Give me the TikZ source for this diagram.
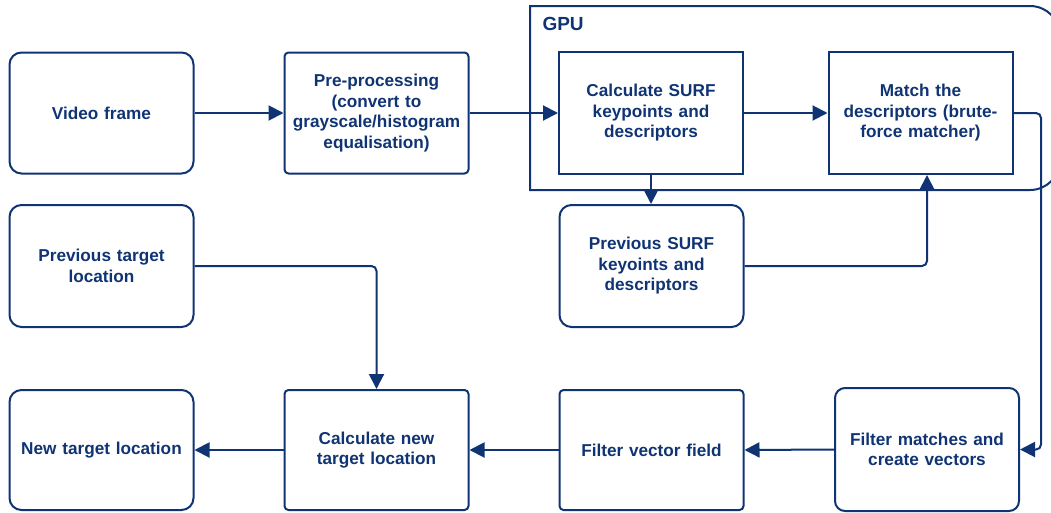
\documentclass[tikz,border=0pt]{standalone}
\usepackage{fontspec}
\setmainfont{Liberation Sans}
\usetikzlibrary{arrows.meta}
\definecolor{navy}{RGB}{16,52,115}
\begin{document}
\begin{tikzpicture}[x=1pt,y=-1pt,
  box/.style={draw=navy, line width=2pt, text=navy, font=\bfseries\fontsize{17.2}{20.5}\selectfont,
    align=center, inner sep=4pt, minimum width=183pt, minimum height=121pt, text width=176pt},
  rbox/.style={box, rounded corners=12pt},
  sbox/.style={box, rounded corners=4pt},
  conn/.style={draw=navy, line width=2pt, rounded corners=5pt, -{Triangle[length=15pt,width=15pt]}},
]
\useasboundingbox (0,0) rectangle (1051,512);
% GPU container
\draw[navy, line width=2pt] (530,190) -- (530,6) -- (1030,6) arc[start angle=90,end angle=0,radius=30pt] -- (1060,160) arc[start angle=0,end angle=-90,radius=30pt] -- cycle;
\node[text=navy, font=\bfseries\fontsize{19}{21}\selectfont, anchor=west] (gpu) at (539,24) {GPU};
% nodes
\node[rbox] (video) at (101.5,113) {Video frame};
\node[sbox] (pre) at (376.5,113) {Pre-processing\\(convert to\\grayscale/histogram\\equalisation)};
\node[box, minimum width=182pt, minimum height=122pt] (surf) at (651,113) {Calculate SURF\\keypoints and\\descriptors};
\node[box, minimum width=181pt, minimum height=122pt] (match) at (920.5,113) {Match the\\descriptors (brute-\\force matcher)};
\node[rbox, minimum height=122pt] (prevsurf) at (651.5,266) {Previous SURF\\keyoints and\\descriptors};
\node[rbox, minimum height=122pt] (prevtgt) at (101.5,266) {Previous target\\location};
\node[rbox, minimum height=120pt] (newtgt) at (101.5,450) {New target location};
\node[sbox, minimum height=120pt] (calcnew) at (376.5,450) {Calculate new\\target location};
\node[sbox, minimum height=120pt] (filtvec) at (651.5,450) {Filter vector field};
\node[rbox, rounded corners=10pt, minimum width=184pt, minimum height=123pt] (filtmatch) at (927,449.5) {Filter matches and\\create vectors};
\coordinate (c1) at (1041,113);
% connectors
\draw[conn] (video.east) -- (pre.west |- video.east);
\draw[conn] (pre.east) -- (surf.west |- pre.east);
\draw[conn] (surf.east) -- (match.west);
\draw[conn] (surf.south) -- (prevsurf.north -| surf.south);
\draw[conn] (prevsurf.east) -| (match.south -| 927,0);
\draw[conn] (match.east) -- (c1) |- (filtmatch.east);
\draw[conn] (filtmatch.west) -- (filtvec.east);
\draw[conn] (filtvec.west) -- (calcnew.east);
\draw[conn] (calcnew.west) -- (newtgt.east);
\draw[conn] (prevtgt.east) -| (calcnew.north);
\end{tikzpicture}
\end{document}
